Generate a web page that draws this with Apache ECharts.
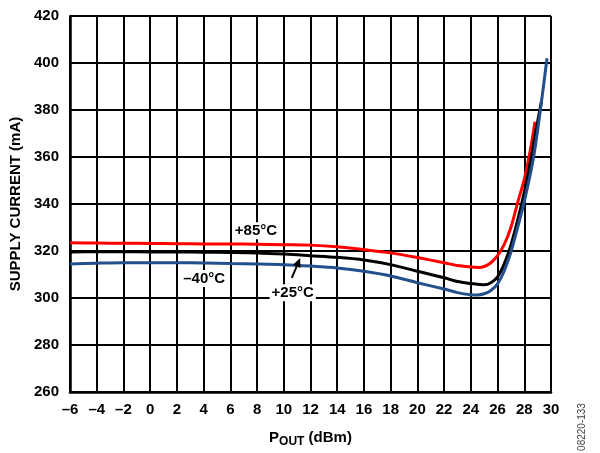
<!DOCTYPE html>
<html><head><meta charset="utf-8">
<script src="https://cdn.jsdelivr.net/npm/echarts@6/dist/echarts.min.js"></script>
<style>html,body{margin:0;padding:0;background:#fff}#c{width:600px;height:453px}</style>
</head><body><div id="c"></div>
<script>
const xTicks = [-6,-4,-2,0,2,4,6,8,10,12,14,16,18,20,22,24,26,28,30];
const yTicks = [260,280,300,320,340,360,380,400,420];
const red85 = [[-6,323.5],[-4,323.4],[-2,323.3],[0,323.2],[2,323.1],[4,323],[6,323],[8,322.9],[10,322.7],[12,322.5],[14,321.8],[16,320.6],[18,319.2],[20,317.2],[22,315],[23,313.8],[24,313.2],[24.6,313],[25,313.4],[25.5,315],[26,318],[26.5,322.8],[27,330],[27.5,340.5],[28,350.5],[28.3,358.5],[28.55,366],[28.8,375]];
const black25 = [[-6,319.6],[-4,319.7],[-2,319.7],[0,319.6],[2,319.6],[4,319.5],[6,319.4],[8,319.2],[10,318.7],[12,318],[14,317.3],[16,316.2],[18,314.2],[20,311.4],[22,308.6],[23,307],[24,306.2],[25,305.6],[25.5,306.5],[26,309],[26.5,314.5],[27,322.5],[27.5,333],[28,345],[28.5,359],[28.9,372],[29.3,384]];
const blue40 = [[-6,314.5],[-4,314.8],[-2,315],[0,315],[2,315],[4,314.9],[6,314.7],[8,314.5],[10,314.2],[12,313.6],[14,312.8],[16,311.4],[18,309.4],[20,306.5],[22,303.8],[23,302.3],[24,301.4],[24.5,301.3],[25,301.8],[25.5,303.2],[26,306],[26.5,311.5],[27,319.5],[27.5,330],[28,341],[28.7,360],[29.25,382],[29.7,402]];
const seriesNames = ['+85°C','+25°C','–40°C'];
const seriesColors = ['#ff0000','#000000','#23508c'];

const FONT = '"Liberation Sans", Arial, sans-serif';
const chart = echarts.init(document.getElementById('c'), null, {renderer:'canvas'});
const mk = (name, data, color, z) => ({
  name, type:'line', data, smooth:0.3, showSymbol:false, symbol:'none', z,
  lineStyle:{color, width:3}, animation:false
});
chart.setOption({
  animation:false,
  grid:{left:70, right:49, top:16, bottom:55},
  xAxis:{type:'value', min:xTicks[0], max:xTicks[xTicks.length-1], interval:2,
    axisLine:{show:true, onZero:false, lineStyle:{color:'#000', width:2.5}},
    axisTick:{show:false},
    splitLine:{show:true, lineStyle:{color:'#000', width:2}},
    axisLabel:{margin:10, color:'#000', fontFamily:FONT, fontWeight:'bold', fontSize:15,
      formatter:v=>String(v).replace('-','–')},
    name:'{p|P}{s|OUT}{p| (dBm)}', nameLocation:'middle', nameGap:36,
    nameTextStyle:{rich:{
      p:{fontFamily:FONT, fontWeight:'bold', fontSize:15, color:'#000'},
      s:{fontFamily:FONT, fontWeight:'bold', fontSize:12, color:'#000', verticalAlign:'bottom', padding:[8,0,0,0]}
    }}
  },
  yAxis:{type:'value', min:yTicks[0], max:yTicks[yTicks.length-1], interval:20,
    axisLine:{show:true, onZero:false, lineStyle:{color:'#000', width:2.5}},
    axisTick:{show:false},
    splitLine:{show:true, lineStyle:{color:'#000', width:2}},
    axisLabel:{margin:11, color:'#000', fontFamily:FONT, fontWeight:'bold', fontSize:15},
    name:'SUPPLY CURRENT (mA)', nameLocation:'middle', nameGap:42,
    nameTextStyle:{fontFamily:FONT, fontWeight:'bold', fontSize:15, color:'#000'}
  },
  series:[mk(seriesNames[0], red85, seriesColors[0], 3), mk(seriesNames[1], black25, seriesColors[1], 4), mk(seriesNames[2], blue40, seriesColors[2], 5)]
});

const P = (x,y)=>chart.convertToPixel({gridIndex:0},[x,y]);
const lab = (txt, x, y) => { const p=P(x,y); return {type:'text', z:20, x:p[0], y:p[1],
  style:{text:txt, fill:'#000', font:'bold 15px '+FONT, align:'center', verticalAlign:'middle',
  backgroundColor:'#fff', padding:[1,2,1,2]}}; };
const t = P(10.6,308.6), h = P(11.23,317);
const ang = Math.atan2(h[1]-t[1], h[0]-t[0]);
const hl=9, hw=4;
const bx=h[0]-hl*Math.cos(ang), by=h[1]-hl*Math.sin(ang);
chart.setOption({graphic:[
  lab(seriesNames[0], 7.92, 328.6),
  lab(seriesNames[2], 4.04, 308.3),
  lab(seriesNames[1], 10.67, 302.2),
  {type:'line', z:21, shape:{x1:t[0],y1:t[1],x2:bx,y2:by}, style:{stroke:'#000', lineWidth:2}},
  {type:'polygon', z:21, shape:{points:[[h[0],h[1]],[bx+hw*Math.sin(ang),by-hw*Math.cos(ang)],[bx-hw*Math.sin(ang),by+hw*Math.cos(ang)]]}, style:{fill:'#000'}},
  {type:'text', z:20, x:582, y:427, rotation:Math.PI/2,
    style:{text:'08220-133', fill:'#444', font:'10px '+FONT, align:'center', verticalAlign:'middle'}}
]});
</script></body></html>
